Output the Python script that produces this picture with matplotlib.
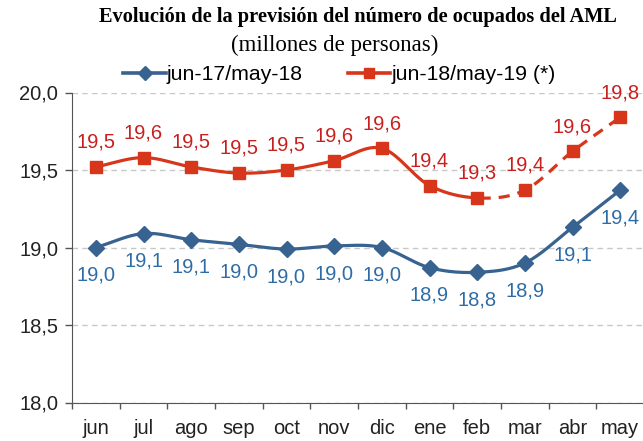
import matplotlib
matplotlib.use("Agg")
import matplotlib.pyplot as plt
import numpy as np

months = ["jun", "jul", "ago", "sep", "oct", "nov", "dic", "ene", "feb", "mar", "abr", "may"]
prev_year = [19.00, 19.09, 19.05, 19.02, 18.99, 19.01, 19.00, 18.87, 18.84, 18.90, 19.13, 19.37]
curr_year = [19.52, 19.58, 19.52, 19.48, 19.50, 19.56, 19.64, 19.40, 19.32, 19.37, 19.62, 19.84]
prev_labels = ["19,0", "19,1", "19,1", "19,0", "19,0", "19,0", "19,0", "18,9", "18,8", "18,9", "19,1", "19,4"]
curr_labels = ["19,5", "19,6", "19,5", "19,5", "19,5", "19,6", "19,6", "19,4", "19,3", "19,4", "19,6", "19,8"]
y_ticks = [18.0, 18.5, 19.0, 19.5, 20.0]
y_ticklabels = ["18,0", "18,5", "19,0", "19,5", "20,0"]
forecast_from = 8  # feb: dashed from here on

BLUE = "#38628f"
BLUE_TXT = "#2f6ca6"
RED = "#d8361b"
RED_TXT = "#c8201e"
FS = 14.5

plt.rcParams["font.family"] = ["Liberation Sans", "DejaVu Sans"]


def smooth(x, y, n=20):
    # catmull-rom, like the smoothed lines of a spreadsheet chart
    x = np.asarray(x, float)
    y = np.asarray(y, float)
    px = np.concatenate([[2 * x[0] - x[1]], x, [2 * x[-1] - x[-2]]])
    py = np.concatenate([[2 * y[0] - y[1]], y, [2 * y[-1] - y[-2]]])
    xs, ys = [], []
    for i in range(1, len(px) - 2):
        t = np.linspace(0, 1, n, endpoint=(i == len(px) - 3))
        for p, out in ((px, xs), (py, ys)):
            p0, p1, p2, p3 = p[i - 1], p[i], p[i + 1], p[i + 2]
            out.extend(0.5 * (2 * p1 + (-p0 + p2) * t + (2 * p0 - 5 * p1 + 4 * p2 - p3) * t ** 2
                              + (-p0 + 3 * p1 - 3 * p2 + p3) * t ** 3))
    return np.array(xs), np.array(ys)


fig = plt.figure(figsize=(6.43, 4.41), dpi=100)
ax = fig.add_axes([72 / 643, 38.5 / 441, 572 / 643, 310 / 441])

x = np.arange(len(months))

# previous year, blue
sx, sy = smooth(x, prev_year)
ax.plot(sx, sy, color=BLUE, lw=2.3, zorder=3, solid_capstyle="round")
ax.plot(x, prev_year, ls="none", marker="D", ms=8, color=BLUE, zorder=4)

# current year, red: solid up to feb, dashed after
sx, sy = smooth(x, curr_year)
solid = sx <= forecast_from
ax.plot(sx[solid], sy[solid], color=RED, lw=2.3, zorder=3)
ax.plot(sx[~solid], sy[~solid], color=RED, lw=2.3, ls=(0, (3.5, 2.5)), zorder=3)
ax.plot(x, curr_year, ls="none", marker="s", ms=8.5, color=RED, zorder=4)

# data labels
for i in x:
    ax.annotate(curr_labels[i], (i, curr_year[i]), xytext=(0, 11), textcoords="offset points",
                ha="center", va="bottom", color=RED_TXT, fontsize=FS, annotation_clip=False)
    ax.annotate(prev_labels[i], (i, prev_year[i]), xytext=(0, -13), textcoords="offset points",
                ha="center", va="top", color=BLUE_TXT, fontsize=FS, annotation_clip=False)

ax.set_ylim(18.0, 20.0)
ax.set_xlim(-0.5, 11.5)
ax.set_yticks(y_ticks)
ax.set_yticklabels(y_ticklabels)
ax.set_xticks(x)
ax.set_xticklabels(months)
ax.set_xticks(np.arange(len(months) + 1) - 0.5, minor=True)
ax.tick_params(axis="both", labelsize=FS, colors="#222222")
ax.tick_params(axis="x", which="major", length=0, pad=12)
ax.tick_params(axis="x", which="minor", length=4, width=1, color="#555555")
ax.tick_params(axis="y", length=5, width=1, color="#555555", pad=5)
ax.grid(axis="y", color="#c8c8c8", ls=(0, (4, 3)), lw=1)
ax.set_axisbelow(True)
for s in ["top", "right"]:
    ax.spines[s].set_visible(False)
ax.spines["left"].set_color("#555555")
ax.spines["bottom"].set_color("#555555")

fig.text(0.556, 0.962, "Evolución de la previsión del número de ocupados del AML",
         ha="center", va="center", fontsize=14.7, fontweight="bold", family="Liberation Serif")
fig.text(0.52, 0.896, "(millones de personas)", ha="center", va="center", fontsize=16.5,
         family="Liberation Serif")

h1, = ax.plot([], [], color=BLUE, lw=2.6, marker="D", ms=7)
h2, = ax.plot([], [], color=RED, lw=2.6, marker="s", ms=7)
fig.legend([h1, h2], ["jun-17/may-18", "jun-18/may-19 (*)"], loc="center",
           bbox_to_anchor=(0.528, 0.83), ncol=2, frameon=False, fontsize=15.3,
           handlelength=2.0, columnspacing=2.1, handletextpad=0.05)

fig.savefig("out.png", dpi=100)
